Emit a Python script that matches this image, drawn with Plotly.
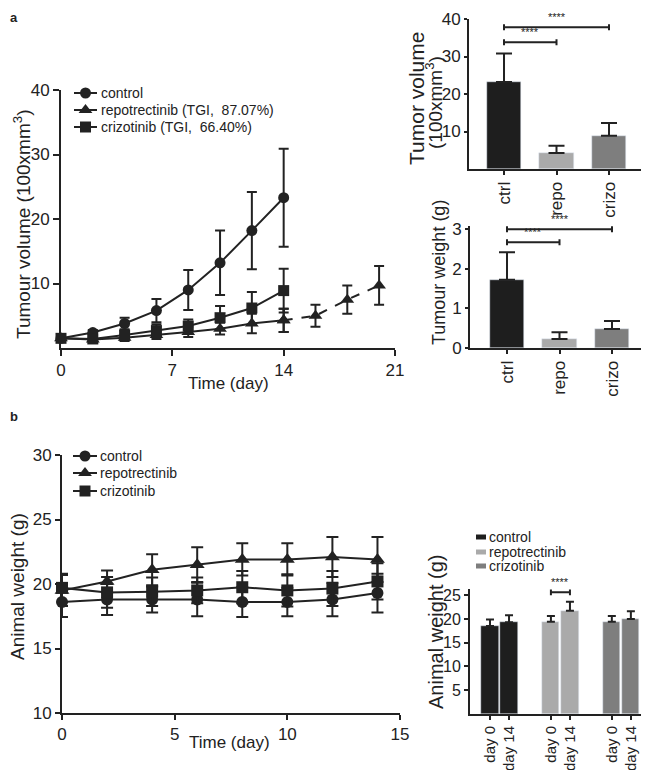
import plotly.graph_objects as go

W, H = 649, 770
OFF = 8  # the page body adds an 8px margin; lay out in page pixels
FW, FH = W - OFF, H - OFF
FONT = "Liberation Sans, Arial, sans-serif"
INK = "#222222"

# panel a - tumour growth curves (mean, sd)
days_a = [0, 2, 4, 6, 8, 10, 12, 14]
ctrl_vol = [1.5, 2.4, 3.8, 5.8, 9.0, 13.2, 18.2, 23.3]
ctrl_vol_sd = [0.2, 0.4, 0.9, 1.8, 3.1, 5.0, 6.0, 7.6]
repo_vol = [1.5, 1.3, 1.6, 2.0, 2.5, 3.0, 3.8, 4.3]
repo_vol_sd = [0.2, 0.3, 0.5, 0.6, 0.8, 0.9, 1.5, 1.8]
crizo_vol = [1.5, 1.4, 2.0, 2.7, 3.4, 4.7, 6.2, 8.9]
crizo_vol_sd = [0.2, 0.3, 0.7, 1.0, 1.0, 1.8, 2.5, 3.4]
days_repo_ext = [16, 18, 20]
repo_vol_ext = [5.0, 7.5, 9.7]
repo_vol_ext_sd = [1.7, 2.2, 3.0]

# panel a - end point bars
groups = ["ctrl", "repo", "crizo"]
bar_colors = ["#1e1e1e", "#aaaaaa", "#7e7e7e"]
vol_end = [23.2, 4.3, 8.9]
vol_end_sd = [7.6, 1.9, 3.4]
tumour_weight = [1.72, 0.23, 0.48]
tumour_weight_sd = [0.70, 0.17, 0.20]

# panel b - body weight curves
days_b = [0, 2, 4, 6, 8, 10, 12, 14]
ctrl_bw = [18.6, 18.8, 18.8, 18.8, 18.6, 18.6, 18.8, 19.3]
ctrl_bw_sd = [1.15, 1.2, 1.0, 1.3, 1.15, 1.1, 1.3, 1.5]
repo_bw = [19.5, 20.2, 21.1, 21.5, 21.9, 21.9, 22.1, 21.9]
repo_bw_sd = [1.2, 0.85, 1.2, 1.35, 1.25, 1.25, 1.55, 1.75]
crizo_bw = [19.7, 19.35, 19.4, 19.5, 19.75, 19.5, 19.65, 20.2]
crizo_bw_sd = [1.1, 1.2, 1.1, 1.0, 1.25, 1.25, 1.35, 1.4]

# panel b - body weight bars
bw_groups = ["control", "repotrectinib", "crizotinib"]
bw_days = ["day 0", "day 14"]
bw_bar = [[18.5, 19.3], [19.4, 21.7], [19.4, 20.0]]
bw_bar_sd = [[1.4, 1.5], [1.2, 1.9], [1.2, 1.6]]

legend_a = ["control", "repotrectinib (TGI,  87.07%)", "crizotinib (TGI,  66.40%)"]
symbols = ["circle", "triangle-up", "square"]


def pxx(x):
    return (x - OFF) / FW


def pxy(y):
    return 1 - (y - OFF) / FH


def err(vals, width, upper_only=False):
    e = dict(type="data", array=vals, color=INK, thickness=2, width=width, visible=True)
    if upper_only:
        e["symmetric"] = False
        e["arrayminus"] = [0] * len(vals)
    return e


fig = go.Figure()

# growth curves
for y, sd, sym in zip([ctrl_vol, repo_vol, crizo_vol], [ctrl_vol_sd, repo_vol_sd, crizo_vol_sd], symbols):
    fig.add_trace(go.Scatter(
        x=days_a, y=y, error_y=err(sd, 5), mode="lines+markers",
        line=dict(color=INK, width=2), marker=dict(symbol=sym, size=12 if sym == "triangle-up" else 11, color=INK),
        cliponaxis=False, xaxis="x", yaxis="y"))
fig.add_trace(go.Scatter(
    x=[days_a[-1]] + days_repo_ext, y=[repo_vol[-1]] + repo_vol_ext,
    error_y=err([repo_vol_sd[-1]] + repo_vol_ext_sd, 5), mode="lines+markers",
    line=dict(color=INK, width=2, dash="dash"), marker=dict(symbol="triangle-up", size=12, color=INK),
    cliponaxis=False, xaxis="x", yaxis="y"))

# end point bars
fig.add_trace(go.Bar(x=groups, y=vol_end, marker_color=bar_colors, width=0.65,
                     error_y=err(vol_end_sd, 8, True), xaxis="x2", yaxis="y2"))
fig.add_trace(go.Bar(x=groups, y=tumour_weight, marker_color=bar_colors, width=0.65,
                     error_y=err(tumour_weight_sd, 8, True), xaxis="x3", yaxis="y3"))

# body weight curves
for y, sd, sym in zip([ctrl_bw, repo_bw, crizo_bw], [ctrl_bw_sd, repo_bw_sd, crizo_bw_sd], symbols):
    fig.add_trace(go.Scatter(
        x=days_b, y=y, error_y=err(sd, 6), mode="lines+markers",
        line=dict(color=INK, width=2), marker=dict(symbol=sym, size=13 if sym == "triangle-up" else 12, color=INK),
        cliponaxis=False, xaxis="x5", yaxis="y5"))

# body weight bars
GROUP_STEP = 3.2
tick_pos, tick_txt = [], []
for g, name in enumerate(bw_groups):
    pos = [g * GROUP_STEP + d for d in range(len(bw_days))]
    tick_pos += pos
    tick_txt += bw_days
    fig.add_trace(go.Bar(x=pos, y=bw_bar[g], marker_color=bar_colors[g], width=0.9,
                         error_y=err(bw_bar_sd[g], 4, True), xaxis="x4", yaxis="y4"))


# hand-built legends on an invisible page-pixel overlay (x6/y6)
def legend_lines(names, rows, x_line, x_text):
    for name, row, sym in zip(names, rows, symbols):
        fig.add_trace(go.Scatter(x=x_line, y=[row, row], mode="lines", line=dict(color=INK, width=2),
                                 xaxis="x6", yaxis="y6", cliponaxis=False))
        fig.add_trace(go.Scatter(x=[sum(x_line) / 2], y=[row], mode="markers",
                                 marker=dict(symbol=sym, size=12 if sym == "triangle-up" else 11, color=INK),
                                 xaxis="x6", yaxis="y6", cliponaxis=False))
        fig.add_annotation(text=name, x=x_text, y=row, xref="x6", yref="y6", showarrow=False,
                           xanchor="left", yanchor="middle", font=dict(family=FONT, size=14, color=INK))


legend_lines(legend_a, [93, 110, 127], [74, 97], 99)
legend_lines(bw_groups, [456, 473, 491], [73, 97], 98)
for name, row, col in zip(bw_groups, [537, 552, 566], bar_colors):
    fig.add_shape(type="rect", xref="x6", yref="y6", x0=476, x1=486, y0=row - 2.5, y1=row + 2.5,
                  fillcolor=col, line=dict(width=0))
    fig.add_annotation(text=name, x=487, y=row, xref="x6", yref="y6", showarrow=False,
                       xanchor="left", yanchor="middle", font=dict(family=FONT, size=14, color=INK))


def ax(size=17, ticklen=5, **kw):
    d = dict(showline=True, linecolor=INK, linewidth=2, ticks="outside", ticklen=ticklen,
             tickwidth=2, tickcolor=INK, showgrid=False, zeroline=False, automargin=False,
             tickfont=dict(family=FONT, size=size, color=INK))
    d.update(kw)
    return d


fig.update_layout(
    width=FW, height=FH, autosize=False, margin=dict(l=0, r=0, t=0, b=0, autoexpand=False),
    paper_bgcolor="white", plot_bgcolor="rgba(0,0,0,0)", font=dict(family=FONT, color=INK),
    bargap=0, showlegend=False,
    xaxis=ax(17, 6, domain=[pxx(61), pxx(395)], range=[0, 21], tickvals=[0, 7, 14, 21], anchor="y"),
    yaxis=ax(17, 6, domain=[pxy(348), pxy(90)], range=[0, 40], tickvals=[10, 20, 30, 40], anchor="x"),
    xaxis2=ax(17, 4, domain=[pxx(469), pxx(647)], range=[-0.667, 2.724], type="category",
              tickangle=-90, anchor="y2"),
    yaxis2=ax(17, 3, domain=[pxy(169), pxy(19)], range=[0, 40], tickvals=[10, 20, 30, 40], anchor="x2"),
    xaxis3=ax(17, 4, domain=[pxx(470), pxx(647)], range=[-0.705, 2.667], type="category",
              tickangle=-90, anchor="y3"),
    yaxis3=ax(17, 3, domain=[pxy(348), pxy(226)], range=[0, 3.08], tickvals=[0, 1, 2, 3], anchor="x3"),
    xaxis4=ax(15, 4, domain=[pxx(470), pxx(648)], range=[-1.05, 8.3], tickvals=tick_pos,
              ticktext=tick_txt, tickangle=-90, anchor="y4"),
    yaxis4=ax(16, 4, domain=[pxy(714), pxy(589)], range=[0, 26.3], tickvals=[5, 10, 15, 20, 25], anchor="x4"),
    xaxis5=ax(17, 5, domain=[pxx(62), pxx(400)], range=[0, 15], tickvals=[0, 5, 10, 15], anchor="y5"),
    yaxis5=ax(17, 5, domain=[pxy(713), pxy(455)], range=[10, 30], tickvals=[10, 15, 20, 25, 30], anchor="x5"),
    xaxis6=dict(domain=[0, 1], range=[OFF, W], visible=False, fixedrange=True, anchor="y6"),
    yaxis6=dict(domain=[0, 1], range=[H, OFF], visible=False, fixedrange=True, anchor="x6"),
)


def title(text, x, y, size, angle=0):
    fig.add_annotation(text=text, x=pxx(x), y=pxy(y), xref="paper", yref="paper", showarrow=False,
                       textangle=angle, font=dict(family=FONT, size=size, color=INK),
                       xanchor="center", yanchor="middle")


title("Tumour volume (100xmm<sup>3</sup>)", 22, 225, 19, -90)
title("Time (day)", 228, 383, 17)
title("Tumor volume", 416, 99, 21, -90)
title("(100xmm<sup>3</sup>)", 434, 103, 19, -90)
title("Tumour weight (g)", 439, 272, 18, -90)
title("Animal weight (g)", 17, 587, 19, -90)
title("Time (day)", 229, 742, 17)
title("Animal weight (g)", 436, 632, 20, -90)
fig.add_annotation(text="<b>a</b>", x=0, y=1, xref="paper", yref="paper", showarrow=False,
                   xanchor="left", yanchor="top", font=dict(family=FONT, size=13, color=INK))
fig.add_annotation(text="<b>b</b>", x=0, y=pxy(407), xref="paper", yref="paper", showarrow=False,
                   xanchor="left", yanchor="top", font=dict(family=FONT, size=13, color=INK))


def bracket(xr, yr, x0, x1, level, cap):
    fig.add_shape(type="path", xref=xr, yref=yr,
                  path=f"M {x0},{level - cap} L {x0},{level + cap} M {x0},{level} L {x1},{level} "
                       f"M {x1},{level - cap} L {x1},{level + cap}",
                  line=dict(color=INK, width=2))
    fig.add_annotation(text="****", x=(x0 + x1) / 2, y=level + cap, xref=xr, yref=yr,
                       showarrow=False, yanchor="bottom", yshift=-1,
                       font=dict(family=FONT, size=11, color=INK))


# brackets: category axes take numeric positions of the categories
bracket("x2", "y2", 0, 2, 37.8, 0.8)
bracket("x2", "y2", 0, 1, 33.8, 0.8)
bracket("x3", "y3", 0, 2, 3.0, 0.075)
bracket("x3", "y3", 0, 1, 2.67, 0.075)
bracket("x4", "y4", GROUP_STEP, GROUP_STEP + 1, 25.6, 0.6)

fig.write_html("out.html")
